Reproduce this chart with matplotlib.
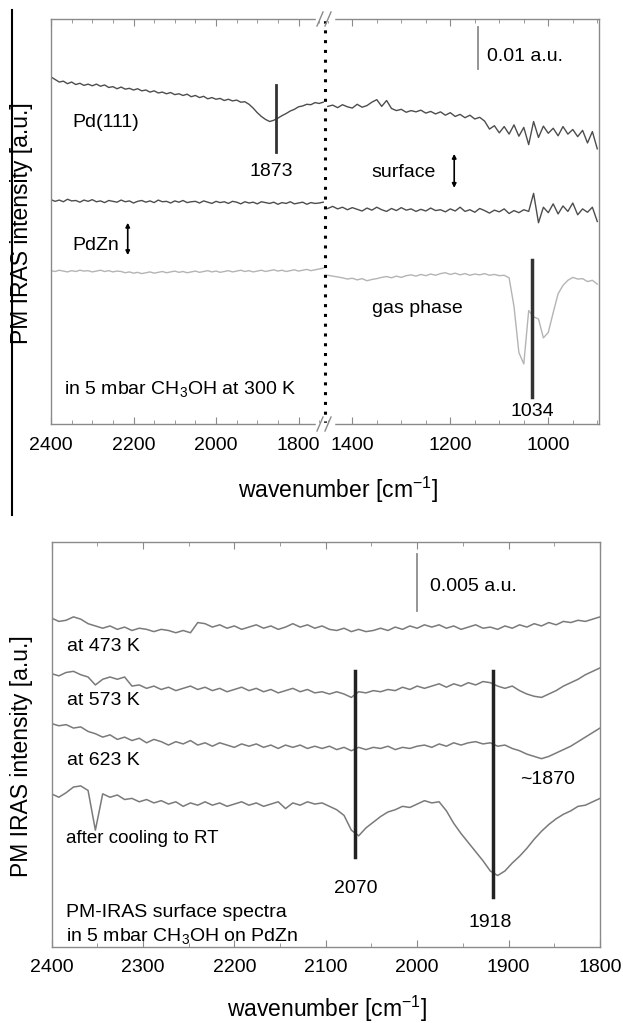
import numpy as np
import matplotlib
matplotlib.use('Agg')
import matplotlib.pyplot as plt
from matplotlib.lines import Line2D
from matplotlib.ticker import MultipleLocator

plt.rcParams['font.family'] = ['Liberation Sans', 'DejaVu Sans']
plt.rcParams['mathtext.fontset'] = 'custom'
plt.rcParams['mathtext.rm'] = 'Liberation Sans'

# ---- top panel data (units: 1e-3 a.u., offsets arbitrary) ----
# left segment 2400 -> 1740 cm-1, right segment 1450 -> 900 cm-1
pd111_left = [82.6, 82.0, 81.4, 81.6, 81.0, 81.4, 80.8, 81.1, 80.6, 80.9,
              80.5, 80.9, 80.4, 80.7, 80.1, 80.3, 79.8, 80.2, 79.7, 79.9,
              79.5, 79.8, 79.3, 79.5, 79.0, 79.3, 78.8, 79.0, 78.6, 78.9,
              78.4, 78.6, 78.2, 78.5, 77.9, 78.2, 77.7, 78.0, 77.4, 77.7,
              77.3, 77.5, 77.0, 77.3, 76.9, 77.1, 76.6, 76.7, 76.1, 75.2,
              74.1, 73.2, 72.5, 72.0, 72.3, 72.8, 73.4, 73.9, 74.5, 74.9,
              75.5, 75.7, 76.1, 76.0, 76.5, 76.3, 76.6]
pd111_right = [75.6, 75.9, 75.3, 76.0, 75.5, 75.2, 76.1, 75.4, 75.8, 76.6,
               77.2, 75.6, 77.0, 75.1, 74.6, 74.9, 74.2, 74.6, 74.3, 74.7,
               74.0, 74.4, 73.8, 74.3, 73.5, 74.1, 73.2, 73.7, 72.9, 73.5,
               72.6, 73.0, 72.1, 70.2, 71.0, 69.3, 70.8, 69.0, 71.2, 68.5,
               70.6, 66.5, 72.0, 68.2, 70.9, 69.2, 70.4, 68.6, 70.8, 69.0,
               70.1, 68.4, 69.9, 66.9, 69.6, 65.5]
pdzn_left = [53.4, 53.0, 53.3, 52.9, 53.5, 53.1, 53.2, 52.8, 53.3, 53.0,
             53.4, 52.9, 53.1, 52.7, 53.2, 53.0, 52.8, 53.3, 52.9, 53.1,
             52.6, 53.0, 53.2, 52.8, 53.1, 52.7, 53.3, 52.9, 53.0, 52.6,
             53.1, 52.8, 53.2, 52.7, 52.9, 53.0, 52.6, 53.1, 52.8, 52.5,
             53.0, 52.7, 52.9, 52.5, 53.0, 52.8, 52.4, 52.9, 52.6, 52.8,
             52.4, 52.9, 52.7, 52.5, 52.8, 52.3, 52.7, 52.5, 52.9, 52.4,
             52.6, 52.8, 52.3, 52.7, 52.5, 52.6, 52.8]
pdzn_right = [51.3, 51.8, 51.2, 51.6, 51.0, 51.5, 51.1, 50.7, 51.4, 50.9,
              51.6, 51.0, 50.6, 51.3, 50.8, 51.5, 50.9, 51.2, 50.6, 51.1,
              50.7, 51.4, 50.8, 51.0, 50.5, 51.2, 50.7, 51.6, 50.6, 51.0,
              50.4, 51.3, 50.8, 50.2, 50.9, 50.5, 51.2, 50.1, 50.8, 50.3,
              51.0, 50.6, 54.9, 47.9, 51.6, 50.3, 52.4, 50.0, 51.9, 50.6,
              52.6, 49.8, 51.2, 50.4, 51.6, 48.2]
gas_left = [36.5, 36.3, 36.6, 36.4, 36.2, 36.5, 36.3, 36.6, 36.4, 36.5,
            36.2, 36.4, 36.6, 36.3, 36.5, 36.2, 36.4, 36.3, 36.0, 36.2,
            35.9, 36.1, 35.8, 36.0, 36.2, 35.9, 36.1, 36.3, 36.0, 36.2,
            36.4, 36.1, 36.3, 36.0, 36.2, 36.4, 36.1, 36.3, 36.5, 36.2,
            36.4, 36.1, 36.3, 36.5, 36.2, 36.4, 36.6, 36.3, 36.5, 36.2,
            36.4, 36.6, 36.3, 36.5, 36.7, 36.4, 36.6, 36.3, 36.5, 36.7,
            36.4, 36.6, 36.8, 36.5, 36.7, 36.9, 37.1]
gas_right = [35.4, 35.2, 35.0, 34.8, 34.5, 34.7, 34.3, 34.6, 34.1, 34.4,
             34.6, 34.9, 35.1, 34.8, 35.2, 34.9, 35.3, 35.5, 35.2, 35.6,
             35.3, 35.7, 35.4, 35.8, 36.0, 35.6, 35.9, 35.5, 35.8, 35.4,
             35.7, 35.5, 35.8, 35.4, 35.6, 35.3, 35.4, 34.8, 28.0, 17.0,
             14.3, 27.0, 25.5, 25.0, 20.5, 21.8, 26.5, 31.0, 33.0, 34.2,
             34.9, 34.5, 34.6, 33.9, 34.2, 33.3]

# ---- bottom panel data (2400 -> 1800 cm-1, step 8) ----
t473 = [29.0, 28.7, 28.8, 29.1, 28.9, 28.5, 28.3, 28.1, 28.3, 28.0,
        28.2, 27.9, 28.1, 28.0, 27.8, 28.0, 27.9, 27.7, 27.9, 27.7,
        28.6, 28.5, 28.2, 28.4, 28.1, 28.3, 28.0, 28.2, 28.4, 28.1,
        28.3, 28.0, 28.2, 28.5, 28.2, 28.4, 28.1, 28.3, 28.0, 27.9,
        28.1, 27.8, 28.0, 27.8, 27.9, 28.1, 27.9, 28.2, 28.0, 28.3,
        28.1, 28.4, 28.2, 28.4, 28.1, 28.3, 28.0, 28.2, 28.4, 28.1,
        28.2, 28.0, 28.3, 28.1, 28.4, 28.2, 28.5, 28.3, 28.6, 28.4,
        28.7, 28.6, 28.8, 28.7, 28.9, 29.1]
t573 = [24.1, 23.9, 24.2, 24.3, 24.0, 23.8, 23.1, 23.6, 23.8, 23.6,
        23.8, 23.0, 23.1, 22.8, 23.0, 22.7, 22.9, 22.6, 22.8, 23.0,
        22.7, 22.9, 22.6, 22.8, 22.5, 22.7, 22.9, 22.6, 22.8, 22.5,
        22.7, 22.4, 22.6, 22.8, 22.5, 22.7, 22.4, 22.5, 22.3, 22.5,
        22.3, 22.0, 22.5, 22.4, 22.6, 22.5, 22.7, 22.6, 22.9, 22.7,
        23.0, 22.8, 23.0, 23.2, 22.9, 23.2, 23.0, 23.3, 23.1, 23.4,
        23.3, 23.0, 22.8, 23.0, 22.6, 22.3, 22.1, 22.0, 22.3, 22.6,
        23.0, 23.3, 23.6, 24.0, 24.3, 24.6]
t623 = [19.7, 19.5, 19.6, 19.3, 19.4, 19.0, 18.8, 18.5, 18.7, 18.3,
        18.5, 18.2, 18.4, 18.0, 18.3, 18.1, 17.8, 18.1, 17.9, 18.2,
        17.8, 18.0, 17.7, 18.0, 17.8, 17.6, 17.9, 17.7, 17.9, 17.6,
        17.8, 17.5, 17.8, 17.6, 17.8, 17.5, 17.7, 17.5, 17.7, 17.4,
        17.6, 17.3, 17.6, 17.4, 17.6, 17.5, 17.7, 17.4, 17.6, 17.5,
        17.7, 17.8, 17.6, 17.9, 17.7, 18.0, 17.8, 18.0, 18.1, 17.9,
        18.0, 17.7, 17.8, 17.5, 17.3, 17.0, 16.8, 16.6, 16.8, 17.1,
        17.4, 17.7, 18.1, 18.5, 18.9, 19.3]
t_rt = [13.5, 13.2, 13.6, 14.1, 14.2, 13.8, 10.3, 13.5, 13.2, 13.4,
        13.0, 13.1, 12.8, 13.0, 12.7, 12.9, 12.6, 12.8, 12.4, 12.7,
        12.5, 12.8, 12.5, 12.7, 12.4, 12.6, 12.8, 12.5, 12.7, 12.4,
        12.6, 12.8, 12.2, 12.7, 12.5, 12.8, 12.6, 12.7, 12.4, 12.1,
        11.6, 10.3, 9.8, 10.5, 11.0, 11.5, 11.9, 12.1, 12.4, 12.3,
        12.6, 12.9, 12.7, 12.8, 12.0, 10.9, 10.0, 9.2, 8.4, 7.6,
        6.7, 6.3, 6.7, 7.4, 8.0, 8.7, 9.5, 10.2, 10.8, 11.3,
        11.7, 12.0, 12.4, 12.5, 12.8, 13.1]

W, H = 623, 1023
fig = plt.figure(figsize=(6.23, 10.23), dpi=100)


def box(x0, y0, x1, y1):
    return [x0 / W, 1 - y1 / H, (x1 - x0) / W, (y1 - y0) / H]


ax_l = fig.add_axes(box(51, 19, 325, 424))
ax_r = fig.add_axes(box(325, 19, 599, 424))
ax_b = fig.add_axes(box(51.5, 542, 600, 947))

spine_c = '#8a8a8a'
for ax in (ax_l, ax_r, ax_b):
    for s in ax.spines.values():
        s.set_color(spine_c)
        s.set_linewidth(1.0)
    ax.set_yticks([])
    ax.xaxis.set_minor_locator(MultipleLocator(50))
    ax.tick_params(axis='x', which='both', direction='in', top=True,
                   color=spine_c, labelsize=14, pad=9)
    ax.tick_params(axis='x', which='major', length=5)
    ax.tick_params(axis='x', which='minor', length=3)

ax_l.spines['right'].set_visible(False)
ax_r.spines['left'].set_visible(False)

# top panel
ax_l.set_xlim(2400, 1735.8)
ax_r.set_xlim(1455.7, 896.5)
ax_l.set_ylim(0, 96.4)
ax_r.set_ylim(0, 96.4)
ax_l.set_xticks([2400, 2200, 2000, 1800])
ax_r.set_xticks([1400, 1200, 1000])

xl = np.linspace(2400, 1740, len(pd111_left))
xr = np.linspace(1450, 900, len(pd111_right))
dark = '#4d4d4d'
ax_l.plot(xl, pd111_left, color=dark, lw=1.0)
ax_r.plot(xr, pd111_right, color=dark, lw=1.0)
ax_l.plot(xl, pdzn_left, color=dark, lw=1.0)
ax_r.plot(xr, pdzn_right, color=dark, lw=1.0)
ax_l.plot(xl, gas_left, color='#b4b4b4', lw=1.0)
ax_r.plot(xr, gas_right, color='#b4b4b4', lw=1.0)

fs = 14
ax_l.text(2349, 71.7, 'Pd(111)', fontsize=fs, va='center')
ax_l.plot([1855, 1855], [64.8, 80.7], color='#333333', lw=2)
ax_l.text(1866, 60.1, '1873', fontsize=fs, ha='center', va='center')
ax_l.text(2347, 42.6, 'PdZn', fontsize=fs, va='center')
ax_l.annotate('', xy=(2214, 40.2), xytext=(2214, 47.9),
              arrowprops=dict(arrowstyle='<|-|>', color='black', lw=1.2,
                              mutation_scale=6, shrinkA=0, shrinkB=0))
ax_l.text(2368, 8.1, 'in 5 mbar CH$_\\mathregular{3}$OH at 300 K',
          fontsize=fs, va='center')

ax_r.text(1362, 59.8, 'surface', fontsize=fs, va='center')
ax_r.annotate('', xy=(1192, 56.2), xytext=(1192, 64.3),
              arrowprops=dict(arrowstyle='<|-|>', color='black', lw=1.2,
                              mutation_scale=6, shrinkA=0, shrinkB=0))
ax_r.plot([1143, 1143], [84.5, 94.6], color='#8c8c8c', lw=1.3)
ax_r.text(1125, 87.5, '0.01 a.u.', fontsize=fs, va='center')
ax_r.text(1360, 27.6, 'gas phase', fontsize=fs, va='center')
ax_r.plot([1034, 1034], [6.5, 39.0], color='#333333', lw=2.5)
ax_r.text(1032, 2.9, '1034', fontsize=fs, ha='center', va='center')

# dotted divider and axis break marks
ax_r.axvline(1455.7, color='black', lw=2.2, ls=(0, (1.0, 2.2)), clip_on=False)
for yb in (19, 424):
    fig.add_artist(Line2D([317 / W, 333 / W], [1 - yb / H] * 2,
                          color='white', lw=2.5))
    for xb in (320, 328):
        fig.add_artist(Line2D([(xb - 3) / W, (xb + 3) / W],
                              [1 - (yb + 7) / H, 1 - (yb - 7) / H],
                              color=spine_c, lw=1.0))

lab = 16.5
fig.text(22 / W, 1 - 223 / H, 'PM IRAS intensity [a.u.]', rotation=90,
         fontsize=lab, ha='center', va='center')
fig.text(338 / W, 1 - 490 / H, 'wavenumber [cm$^{\\mathregular{-1}}$]',
         fontsize=lab, ha='center', va='center')

# stray border line from the source page
fig.add_artist(Line2D([12 / W] * 2, [1 - 10 / H, 1 - 515 / H],
                      color='black', lw=1.5))

# bottom panel
ax_b.set_xlim(2400, 1800)
ax_b.set_ylim(0, 35.7)
ax_b.set_xticks([2400, 2300, 2200, 2100, 2000, 1900, 1800])
xb_ = np.linspace(2400, 1800, len(t473))
mid = '#7a7a7a'
for tr in (t473, t573, t623, t_rt):
    ax_b.plot(xb_, tr, color=mid, lw=1.1)

ax_b.plot([2068, 2068], [7.9, 24.3], color='#222222', lw=2.5)
ax_b.plot([1917, 1917], [4.4, 24.3], color='#222222', lw=2.5)
ax_b.plot([2000, 2000], [29.6, 34.6], color='#8c8c8c', lw=1.3)
ax_b.text(1986, 31.8, '0.005 a.u.', fontsize=fs, va='center')
ax_b.text(2383, 26.5, 'at 473 K', fontsize=fs, va='center')
ax_b.text(2383, 21.7, 'at 573 K', fontsize=fs, va='center')
ax_b.text(2383, 16.4, 'at 623 K', fontsize=fs, va='center')
ax_b.text(2384, 9.6, 'after cooling to RT', fontsize=13.5, va='center')
ax_b.text(2067, 5.2, '2070', fontsize=fs, ha='center', va='center')
ax_b.text(1920, 2.2, '1918', fontsize=fs, ha='center', va='center')
ax_b.text(1857, 14.8, '~1870', fontsize=fs, ha='center', va='center')
ax_b.text(2384, 3.0, 'PM-IRAS surface spectra', fontsize=fs, va='center')
ax_b.text(2384, 0.9, 'in 5 mbar CH$_\\mathregular{3}$OH on PdZn',
          fontsize=fs, va='center')

fig.text(22 / W, 1 - 756 / H, 'PM IRAS intensity [a.u.]', rotation=90,
         fontsize=lab, ha='center', va='center')
fig.text(327 / W, 1 - 1009 / H, 'wavenumber [cm$^{\\mathregular{-1}}$]',
         fontsize=lab, ha='center', va='center')

fig.savefig('out.png', dpi=100, facecolor='white')
